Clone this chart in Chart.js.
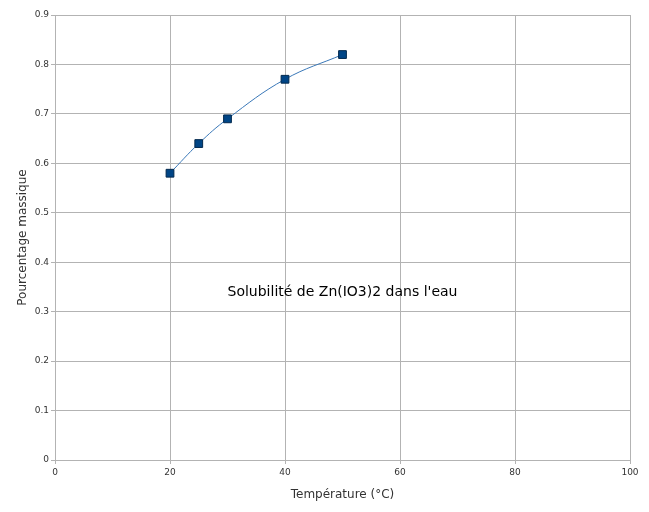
<!DOCTYPE html>
<html>
<head>
<meta charset="utf-8">
<script src="https://cdn.jsdelivr.net/npm/chart.js@4"></script>
<style>
  html, body { margin: 0; padding: 0; background: #fff; }
  canvas { display: block; }
</style>
</head>
<body>
<canvas id="myChart" width="649" height="512"></canvas>
<script>
// Data
const temperatures = [20, 25, 30, 40, 50];
const pourcentages = [0.58, 0.64, 0.69, 0.77, 0.82];
const chartLabel = "Solubilité de Zn(IO3)2 dans l'eau";
const xTitle = 'Température (°C)';
const yTitle = 'Pourcentage massique';

const points = temperatures.map((t, i) => ({ x: t, y: pourcentages[i] }));

// texte au milieu du graphe
const innerLabel = {
    id: 'innerLabel',
    afterDraw(chart) {
        const { ctx, chartArea: { left, right, top, bottom } } = chart;
        ctx.save();
        ctx.font = '14px "DejaVu Sans"';
        ctx.fillStyle = '#000';
        ctx.textAlign = 'center';
        ctx.textBaseline = 'middle';
        ctx.fillText(chartLabel, (left + right) / 2, top + (bottom - top) * 0.623);
        ctx.restore();
    }
};

const gridColor = '#b3b3b3';

new Chart(document.getElementById('myChart'), {
    type: 'scatter',
    data: {
        datasets: [{
            data: points,
            showLine: true,
            borderColor: '#3a78b8',
            borderWidth: 1,
            tension: 0.4,
            pointStyle: 'rect',
            pointRadius: 5.5,
            pointHoverRadius: 5.5,
            pointBackgroundColor: '#004586',
            pointBorderColor: '#00284d',
            pointBorderWidth: 1
        }]
    },
    options: {
        responsive: false,
        animation: false,
        layout: { padding: { left: 0, top: 15, right: 19, bottom: 0 } },
        plugins: {
            legend: { display: false },
            tooltip: { enabled: false }
        },
        scales: {
            x: {
                type: 'linear',
                min: 0,
                max: 100,
                afterFit(scale) { scale.height = 52; },
                ticks: { stepSize: 20, padding: 3, color: '#333', font: { family: 'DejaVu Sans', size: 9 } },
                grid: { color: gridColor, tickLength: 4 },
                border: { color: gridColor },
                title: {
                    display: true,
                    text: xTitle,
                    color: '#333',
                    font: { family: 'DejaVu Sans', size: 12 },
                    padding: { top: 0, bottom: 10 }
                }
            },
            y: {
                min: 0,
                max: 0.9,
                afterFit(scale) { scale.width = 55; },
                ticks: { stepSize: 0.1, padding: 2, color: '#333', font: { family: 'DejaVu Sans', size: 9 } },
                grid: { color: gridColor, tickLength: 4 },
                border: { color: gridColor },
                title: {
                    display: true,
                    text: yTitle,
                    color: '#333',
                    font: { family: 'DejaVu Sans', size: 12 },
                    padding: { top: 16, bottom: 0 }
                }
            }
        }
    },
    plugins: [innerLabel]
});
</script>
</body>
</html>
